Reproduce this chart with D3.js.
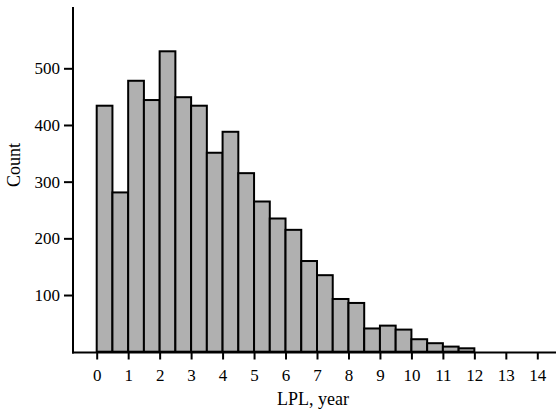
<!DOCTYPE html>
<html>
<head>
<meta charset="utf-8">
<script src="https://cdn.jsdelivr.net/npm/d3@7"></script>
<style>
  html, body { margin: 0; padding: 0; background: #fff; }
  svg { display: block; }
  text { font-family: "Liberation Serif", "Times New Roman", serif; fill: #000; }
</style>
</head>
<body>
<svg id="chart" width="557" height="411"></svg>
<script>
// Histogram bins (LPL, year), bin width 0.5
const binStarts = [0, 0.5, 1, 1.5, 2, 2.5, 3, 3.5, 4, 4.5, 5, 5.5, 6, 6.5, 7, 7.5, 8, 8.5, 9, 9.5, 10, 10.5, 11, 11.5];
const counts = [434, 281, 478, 444, 530, 449, 434, 351, 388, 315, 265, 235, 215, 160, 135, 93, 86, 41, 46, 39, 22, 15, 9, 6];
const binWidth = 0.5;
const xTicks = [0, 1, 2, 3, 4, 5, 6, 7, 8, 9, 10, 11, 12, 13, 14];
const yTicks = [100, 200, 300, 400, 500];
const xTitle = "LPL, year";
const yTitle = "Count";

const svg = d3.select("#chart");
const axisX0 = 73, axisX1 = 556, axisY = 352.5, axisTop = 7;

const x = d3.scaleLinear().domain([0, 14]).range([96.7, 537.3]);
const y = d3.scaleLinear().domain([0, 500]).range([351.7, 68.3]);

// bars
svg.append("g").selectAll("rect")
  .data(binStarts.map((s, i) => ({ s, c: counts[i] })))
  .join("rect")
  .attr("x", d => x(d.s))
  .attr("width", d => x(d.s + binWidth) - x(d.s))
  .attr("y", d => y(d.c))
  .attr("height", d => y(0) - y(d.c))
  .attr("fill", "#b0b0b0")
  .attr("stroke", "#000")
  .attr("stroke-width", 2);

// y axis
const yAxis = d3.axisLeft(y).tickValues(yTicks).tickSize(9).tickPadding(4).tickFormat(d3.format("d"));
const gy = svg.append("g").attr("transform", `translate(${axisX0},0)`).call(yAxis);
gy.select(".domain").remove();
gy.selectAll(".tick line").attr("stroke", "#000").attr("stroke-width", 2);
gy.selectAll(".tick text").attr("font-size", 17).attr("font-family", "Liberation Serif");

// x axis
const xAxis = d3.axisBottom(x).tickValues(xTicks).tickSize(7).tickPadding(9).tickFormat(d3.format("d"));
const gx = svg.append("g").attr("transform", `translate(0,${axisY})`).call(xAxis);
gx.select(".domain").remove();
gx.selectAll(".tick line").attr("stroke", "#000").attr("stroke-width", 2);
gx.selectAll(".tick text").attr("font-size", 17).attr("font-family", "Liberation Serif");

// axis lines
svg.append("line").attr("x1", axisX0).attr("x2", axisX0).attr("y1", axisTop).attr("y2", axisY + 1)
  .attr("stroke", "#000").attr("stroke-width", 2);
svg.append("line").attr("x1", axisX0 - 1).attr("x2", axisX1).attr("y1", axisY).attr("y2", axisY)
  .attr("stroke", "#000").attr("stroke-width", 2);

// titles
svg.append("text").attr("x", 313).attr("y", 405).attr("text-anchor", "middle")
  .attr("font-size", 18).text(xTitle);
svg.append("text").attr("transform", "translate(20,165) rotate(-90)").attr("text-anchor", "middle")
  .attr("font-size", 18).text(yTitle);
</script>
</body>
</html>
